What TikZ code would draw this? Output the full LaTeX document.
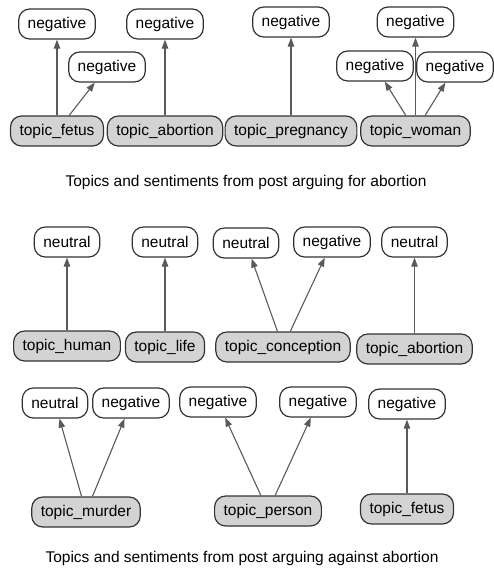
\documentclass[tikz,border=0pt]{standalone}
\usepackage{fontspec}
\setmainfont{Liberation Sans}
\usetikzlibrary{arrows.meta}
\definecolor{topicgray}{HTML}{D3D3D3}
\definecolor{framegray}{HTML}{333333}
\definecolor{edgegray}{HTML}{5A5A5A}

\begin{document}
\begin{tikzpicture}[x=1pt,y=-1pt,
    sent/.style={draw=framegray, line width=1.2pt, rounded corners=11pt,
        minimum height=30pt, inner xsep=9pt, font=\fontsize{15.5}{18}\selectfont},
    topic/.style={sent, fill=topicgray},
    edge/.style={draw=edgegray, line width=1.1pt, -{Triangle[length=9pt,width=6.5pt]}}]
    \useasboundingbox (0,0) rectangle (494,570);

    % Topic nodes (grey)
    \foreach \nm/\x/\y/\txt in {tfetusA/57/131/topic\_fetus, tabortA/165/131/topic\_abortion,
        tpreg/291/131/topic\_pregnancy, twoman/415.5/131/topic\_woman,
        thuman/67/346/topic\_human, tlife/165/347/topic\_life,
        tconc/283/347/topic\_conception, tabortB/414.5/349/topic\_abortion,
        tmurder/86/512/topic\_murder, tperson/268/511/topic\_person,
        tfetusC/407/509/topic\_fetus} {
        \node[topic] (\nm) at (\x,\y) {\txt};
    }

    % Sentiment nodes (white)
    \foreach \nm/\x/\y/\txt in {nA1/57/24/negative, nA2/107/67/negative, nA3/165/24/negative,
        nA4/291/22/negative, nA5/375/66/negative, nA6/415.5/22/negative, nA7/455/67/negative,
        nB1/67/242/neutral, nB2/165/242/neutral, nB3/246/243/neutral,
        nB4/332/242/negative, nB5/414.5/242/neutral,
        nC1/55/403/neutral, nC2/131/403/negative, nC3/218/402/negative,
        nC4/318/402/negative, nC5/407/404/negative} {
        \node[sent] (\nm) at (\x,\y) {\txt};
    }

    % Topic -> sentiment
    \foreach \a/\b in {tfetusA/nA1, tfetusA/nA2, tabortA/nA3, tpreg/nA4,
        twoman/nA5, twoman/nA6, twoman/nA7,
        thuman/nB1, tlife/nB2, tconc/nB3, tconc/nB4, tabortB/nB5,
        tmurder/nC1, tmurder/nC2, tperson/nC3, tperson/nC4, tfetusC/nC5} {
        \draw[edge] (\a) -- (\b);
    }

    % Captions
    \node[font=\fontsize{15.5}{18}\selectfont] (capFor) at (246,182) {Topics and sentiments from post arguing for abortion};
    \node[font=\fontsize{15.5}{18}\selectfont] (capAgainst) at (242,558) {Topics and sentiments from post arguing against abortion};

\end{tikzpicture}
\end{document}
